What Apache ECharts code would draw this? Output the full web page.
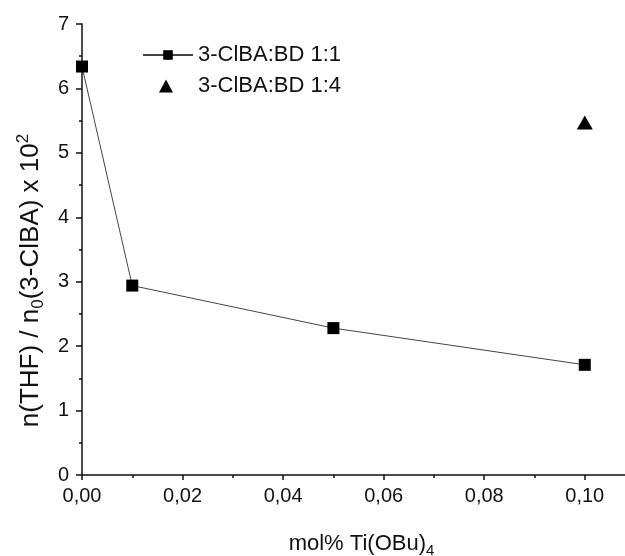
<!DOCTYPE html>
<html><head><meta charset="utf-8">
<script src="https://cdn.jsdelivr.net/npm/echarts@6/dist/echarts.min.js"></script>
<style>html,body{margin:0;padding:0;background:#fff}#c{width:625px;height:556px}</style>
</head><body><div id="c"></div>
<script>
var xValues1 = [0, 0.01, 0.05, 0.10];
var yValues1 = [6.34, 2.94, 2.28, 1.71];
var xValues2 = [0.10];
var yValues2 = [5.47];
var seriesNames = ['3-ClBA:BD 1:1', '3-ClBA:BD 1:4'];
var xTicks = [0, 0.02, 0.04, 0.06, 0.08, 0.10];

var chart = echarts.init(document.getElementById('c'));
var font = 'Liberation Sans, Arial, sans-serif';
function fmt(v){ return v.toFixed(2).replace('.', ','); }
chart.setOption({
  animation: false,
  backgroundColor: '#fff',
  grid: {left: 82, top: 24, right: 0, bottom: 81, containLabel: false, outerBoundsMode: 'none'},
  legend: [{
    orient: 'vertical', left: 142, top: 44, padding: 0,
    itemWidth: 50, itemHeight: 12,
    textStyle: {fontFamily: font, fontSize: 22, color: '#111'},
    data: [{name: seriesNames[0]}]
  }, {
    orient: 'vertical', left: 159, top: 75, padding: 0,
    itemWidth: 14, itemHeight: 13,
    itemStyle: {opacity: 1},
    textStyle: {fontFamily: font, fontSize: 22, color: '#111', padding: [0, 0, 0, 20]},
    data: [{name: seriesNames[1]}]
  }],
  xAxis: {
    type: 'value', min: 0, max: 0.108, interval: 0.02,
    axisLine: {lineStyle: {color: '#111', width: 1.5}},
    axisTick: {show: true, length: 5, lineStyle: {color: '#111', width: 1.5}, customValues: xTicks},
    minorTick: {show: true, splitNumber: 2, length: 3, lineStyle: {color: '#111', width: 1.5}},
    splitLine: {show: false},
    axisLabel: {fontFamily: font, fontSize: 20, color: '#111', margin: 11,
      customValues: xTicks, formatter: function(v){return fmt(v);}},
    name: '{a|mol% Ti(OBu)}{s|4}',
    nameLocation: 'middle', nameGap: 54,
    nameTextStyle: {padding: [0, 0, 0, 16], rich: {
      a: {fontFamily: font, fontSize: 22, color: '#111'},
      s: {fontFamily: font, fontSize: 15, color: '#111', padding: [14, 0, 0, 0]}}}
  },
  yAxis: {
    type: 'value', min: 0, max: 7, interval: 1,
    axisLine: {show: true, lineStyle: {color: '#111', width: 1.5}},
    axisTick: {show: true, length: 6, lineStyle: {color: '#111', width: 1.5}},
    minorTick: {show: true, splitNumber: 2, length: 3, lineStyle: {color: '#111', width: 1.5}},
    splitLine: {show: false},
    axisLabel: {fontFamily: font, fontSize: 20, color: '#111', margin: 13},
    name: '{a|n(THF) / n}{s|0}{a|(3-ClBA) x 10}{p|2}',
    nameLocation: 'middle', nameGap: 31, nameRotate: 90,
    nameTextStyle: {padding: [0, 62, 0, 0], rich: {
      a: {fontFamily: font, fontSize: 26, color: '#111'},
      s: {fontFamily: font, fontSize: 17, color: '#111', padding: [16, 0, 0, 0]},
      p: {fontFamily: font, fontSize: 17, color: '#111', padding: [0, 0, 14, 0]}
    }}
  },
  series: [
    {
      name: seriesNames[0], type: 'line',
      data: xValues1.map(function(x,i){return [x, yValues1[i]];}),
      symbol: 'rect', symbolSize: 12,
      itemStyle: {color: '#000', opacity: 1},
      lineStyle: {color: '#444', width: 1},
      clip: false
    },
    {
      name: seriesNames[1], type: 'scatter',
      data: xValues2.map(function(x,i){return [x, yValues2[i]];}),
      symbol: 'triangle', symbolSize: [16, 14],
      itemStyle: {color: '#000', opacity: 1},
      clip: false
    }
  ]
});
</script></body></html>
